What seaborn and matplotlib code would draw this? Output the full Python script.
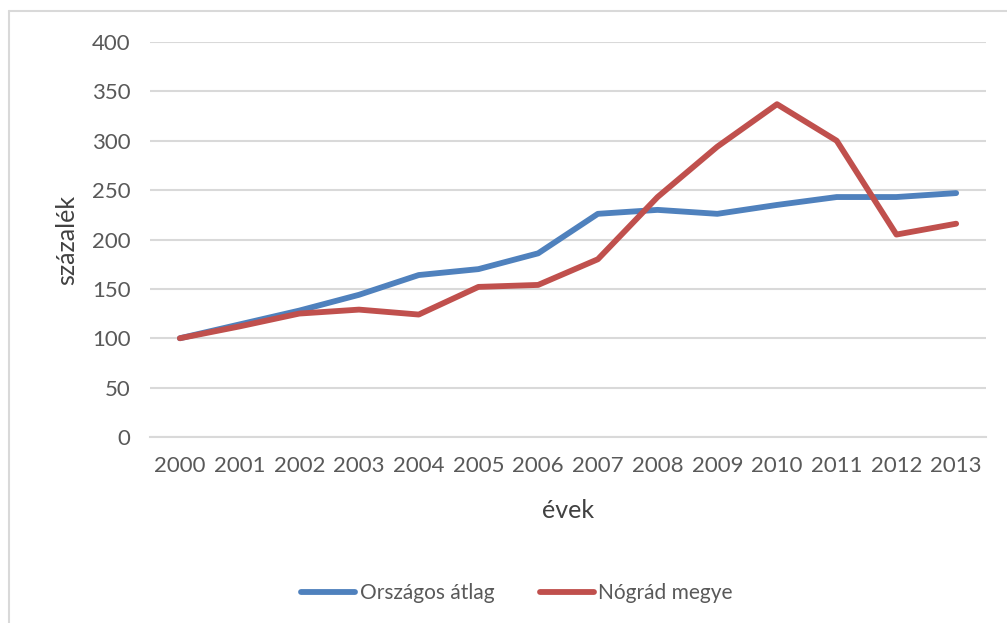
import seaborn as sns
import matplotlib.pyplot as plt
import pandas as pd
from matplotlib.lines import Line2D

# Data
years = [str(y) for y in range(2000, 2014)]
orszagos = [100, 114, 128, 144, 164, 170, 186, 226, 230, 226, 235, 243, 243, 247]
nograd = [100, 112, 125, 129, 124, 152, 154, 180, 243, 294, 337, 300, 205, 216]
series_names = ["Országos átlag", "Nógrád megye"]

df = pd.DataFrame({
    "év": years * 2,
    "érték": orszagos + nograd,
    "sorozat": [series_names[0]] * len(years) + [series_names[1]] * len(years),
})

sns.set_style("white")
plt.rcParams["font.family"] = ["Lato", "DejaVu Sans"]
text_col = "#595959"
grid_col = "#D9D9D9"

fig = plt.figure(figsize=(10.07, 6.23), dpi=100)
ax = fig.add_axes([150 / 1007, 1 - 437 / 623, 836 / 1007, 395 / 623])

sns.lineplot(data=df, x="év", y="érték", hue="sorozat", hue_order=series_names,
             palette=["#4F81BD", "#C0504D"], linewidth=4.2, sort=False,
             solid_capstyle="round", solid_joinstyle="round", ax=ax, legend=False)

ax.set_xlim(-0.5, len(years) - 0.5)
ax.set_ylim(0, 400)
ax.set_yticks(range(0, 401, 50))
ax.yaxis.grid(True, color=grid_col, linewidth=1.5)
ax.set_axisbelow(True)
for side in ["top", "right", "left"]:
    ax.spines[side].set_visible(False)
ax.spines["bottom"].set_color(grid_col)
ax.spines["bottom"].set_linewidth(1.5)
ax.tick_params(axis="both", length=0, labelsize=16, colors=text_col)
ax.tick_params(axis="x", pad=14)
ax.tick_params(axis="y", pad=14)

ax.set_xlabel("évek", fontsize=18, color="#404040", labelpad=16)
ax.set_ylabel("százalék", fontsize=18, color="#404040", labelpad=10)

handles = [Line2D([0], [0], color=c, linewidth=4.2, solid_capstyle="round")
           for c in ["#4F81BD", "#C0504D"]]
fig.legend(handles, series_names, loc="center", bbox_to_anchor=(517 / 1007, 1 - 593 / 623),
           ncol=2, frameon=False, fontsize=15, labelcolor=text_col,
           handlelength=2.6, handletextpad=0.2, columnspacing=2.2)

# chart border (left and top edges visible)
fig.add_artist(Line2D([8.5 / 1007, 8.5 / 1007], [0, 1 - 11 / 623], color=grid_col, linewidth=1.5))
fig.add_artist(Line2D([8.5 / 1007, 1], [1 - 11 / 623, 1 - 11 / 623], color=grid_col, linewidth=1.5))

plt.savefig("out.png", dpi=100)
